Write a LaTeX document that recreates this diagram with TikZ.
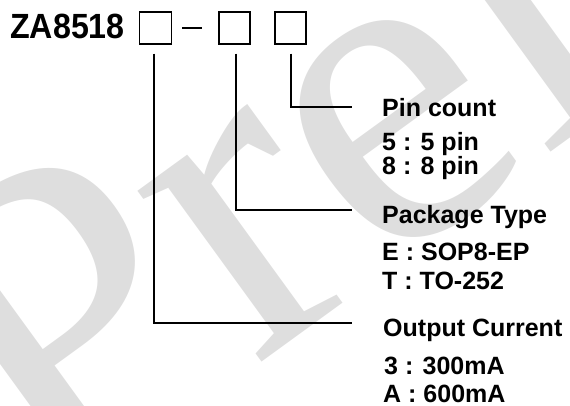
\documentclass[tikz,border=0pt]{standalone}
\usepackage{fontspec}
\setmainfont{Liberation Sans}
\newfontfamily\markfont{Liberation Serif}
\usetikzlibrary{positioning}

\begin{document}
\begin{tikzpicture}[
    x=1pt, y=-1pt,
    slot/.style={rectangle, draw=black, line width=1.5pt, minimum width=32pt, minimum height=32pt, inner sep=0pt},
    lead/.style={draw=black, line width=2pt},
    head/.style={anchor=base west, inner sep=0pt, font=\fontsize{25}{28}\selectfont\bfseries},
    wmark/.style={anchor=base west, inner sep=0pt, rotate=36, text=black!13, font=\markfont\fontsize{460}{460}\selectfont}
]
\clip (0,0) rectangle (570,406);

% Watermark
\node[wmark] (mark) at (47,518) {Preliminary};

% Part number
\node[head, font=\fontsize{35}{40}\selectfont\bfseries, xscale=0.92, transform shape] (part) at (10,39) {ZA8518};
\node[slot] (cur) at (155.5,28) {};
\node[slot, minimum width=31pt] (pkg) at (234.5,28) {};
\node[slot, minimum width=31pt] (pin) at (290.5,28) {};
\draw[lead, shorten <=10pt, shorten >=16pt] (cur.east) -- (pkg.west);

% Labels
\node[head] (pinT) at (382,117) {Pin count};
\node[head] (pin5) at (382,151) {5 : 5 pin};
\node[head] (pin8) at (382,175) {8 : 8 pin};
\node[head] (pkgT) at (382,223) {Package Type};
\node[head] (pkgE) at (382,260) {E : SOP8-EP};
\node[head] (pkgT2) at (382,289) {T : TO-252};
\node[head] (curT) at (383,336) {Output Current};
\node[head] (cur3) at (384,374) {3 : 300mA};
\node[head] (curA) at (383,402) {A : 600mA};

% Links
\draw[lead] ([xshift=0.5pt, yshift=-9pt]pin.south) |- ([xshift=-30pt, yshift=10pt]pinT.base west);
\draw[lead] ([xshift=1.5pt, yshift=-9pt]pkg.south) |- ([xshift=-30pt, yshift=13pt]pkgT.base west);
\draw[lead] ([xshift=-1.5pt, yshift=-9pt]cur.south) |- ([xshift=-31pt, yshift=13pt]curT.base west);

\end{tikzpicture}
\end{document}
